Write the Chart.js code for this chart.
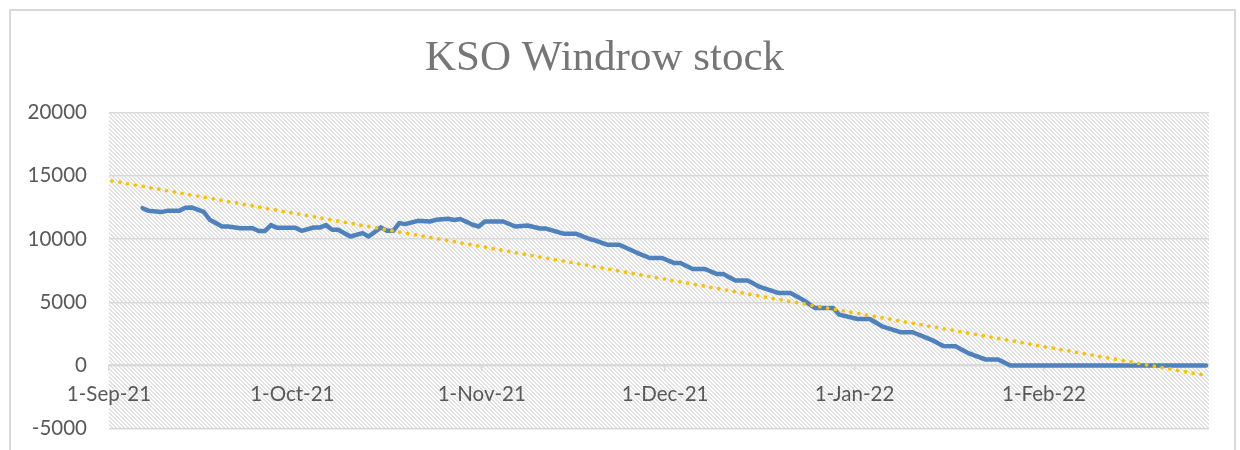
<!DOCTYPE html>
<html>
<head>
<meta charset="utf-8">
<title>KSO Windrow stock</title>
<script src="https://cdn.jsdelivr.net/npm/chart.js@4/dist/chart.umd.min.js"></script>
<style>
    html, body { margin: 0; padding: 0; background: #ffffff; }
    #wrap { width: 1240px; height: 450px; position: relative; }
</style>
</head>
<body>
<div id="wrap"><canvas id="stock-chart"></canvas></div>
<script>
// chart data
const startDate = '2021-09-01';
const axisDays = 180;

const stockDates = [
    '2021-09-06', '2021-09-07', '2021-09-09', '2021-09-10', '2021-09-12', '2021-09-13', '2021-09-14',
    '2021-09-16', '2021-09-17', '2021-09-19', '2021-09-20', '2021-09-22', '2021-09-24', '2021-09-25',
    '2021-09-26', '2021-09-27', '2021-09-28', '2021-10-01', '2021-10-02', '2021-10-04', '2021-10-05',
    '2021-10-06', '2021-10-07', '2021-10-08', '2021-10-10', '2021-10-12', '2021-10-13', '2021-10-15',
    '2021-10-16', '2021-10-17', '2021-10-18', '2021-10-19', '2021-10-21', '2021-10-23', '2021-10-24',
    '2021-10-26', '2021-10-27', '2021-10-28', '2021-10-30', '2021-10-31', '2021-11-01', '2021-11-04',
    '2021-11-06', '2021-11-08', '2021-11-10', '2021-11-11', '2021-11-14', '2021-11-16', '2021-11-18',
    '2021-11-19', '2021-11-21', '2021-11-23', '2021-11-26', '2021-11-28', '2021-11-30', '2021-12-02',
    '2021-12-03', '2021-12-05', '2021-12-07', '2021-12-09', '2021-12-10', '2021-12-12', '2021-12-14',
    '2021-12-16', '2021-12-19', '2021-12-21', '2021-12-23', '2021-12-25', '2021-12-28', '2021-12-29',
    '2022-01-01', '2022-01-03', '2022-01-05', '2022-01-08', '2022-01-10', '2022-01-13', '2022-01-15',
    '2022-01-17', '2022-01-19', '2022-01-22', '2022-01-24', '2022-01-26', '2022-02-27'
];
const stockValues = [
    12440, 12230, 12130, 12230, 12230, 12480, 12500,
    12150, 11520, 10990, 10990, 10860, 10860, 10630,
    10630, 11100, 10890, 10890, 10650, 10910, 10910,
    11100, 10730, 10730, 10200, 10470, 10200, 10920,
    10650, 10650, 11260, 11180, 11440, 11390, 11520,
    11600, 11500, 11580, 11130, 10990, 11390, 11390,
    10990, 11070, 10830, 10830, 10410, 10410, 10020,
    9890, 9550, 9550, 8890, 8500, 8500, 8100,
    8100, 7630, 7630, 7230, 7230, 6730, 6730,
    6210, 5740, 5740, 5210, 4550, 4550, 4020,
    3680, 3680, 3100, 2630, 2630, 2050, 1550,
    1520, 1000, 470, 470, 0, 0
];

// linear trend line end points
const trendDates = ['2021-09-01', '2022-02-27'];
const trendValues = [14600, -780];

// x axis tick labels
const tickDates = ['2021-09-01', '2021-10-01', '2021-11-01', '2021-12-01', '2022-01-01', '2022-02-01'];
const tickLabels = ['1-Sep-21', '1-Oct-21', '1-Nov-21', '1-Dec-21', '1-Jan-22', '1-Feb-22'];

// y axis
const yMin = -5000;
const yMax = 20000;
const yStep = 5000;

// days since start date
function dayIndex(s) {
    const a = new Date(startDate + 'T00:00:00Z');
    const b = new Date(s + 'T00:00:00Z');
    return Math.round((b - a) / 86400000);
}

// each day is a slot, points sit in the middle of it
function toPoints(dates, values) {
    return dates.map((d, i) => ({ x: dayIndex(d) + 0.5, y: values[i] }));
}

const tickDays = tickDates.map(dayIndex);

// hatched plot area
function makeHatch() {
    const c = document.createElement('canvas');
    c.width = 4;
    c.height = 4;
    const g = c.getContext('2d');
    g.fillStyle = '#ffffff';
    g.fillRect(0, 0, 4, 4);
    g.fillStyle = '#e2e2e2';
    for (let y = 0; y < 4; y++) {
        for (let x = 0; x < 4; x++) {
            if (((x - y) % 4 + 4) % 4 < 2) {
                g.fillRect(x, y, 1, 1);
            }
        }
    }
    return c;
}

const backgroundPlugin = {
    id: 'background',
    beforeDraw(chart) {
        const ctx = chart.ctx;
        const area = chart.chartArea;
        ctx.save();
        ctx.fillStyle = '#ffffff';
        ctx.fillRect(0, 0, chart.width, chart.height);
        ctx.fillStyle = ctx.createPattern(makeHatch(), 'repeat');
        ctx.fillRect(area.left, area.top, area.right - area.left, area.bottom - area.top);
        // outer chart border
        ctx.strokeStyle = '#d9d9d9';
        ctx.lineWidth = 2;
        ctx.strokeRect(10, 10, 1225, 460);
        ctx.restore();
    }
};

const ctx = document.getElementById('stock-chart').getContext('2d');
const stockChart = new Chart(ctx, {
    type: 'line',
    data: {
        datasets: [{
            label: 'KSO Windrow stock',
            data: toPoints(stockDates, stockValues),
            borderColor: '#4f81bd',
            borderWidth: 4.5,
            borderJoinStyle: 'round',
            borderCapStyle: 'round',
            pointRadius: 0,
            tension: 0,
            fill: false,
            order: 2
        }, {
            label: 'Linear trend',
            data: toPoints(trendDates, trendValues),
            borderColor: '#ffc000',
            borderWidth: 3.8,
            borderDash: [0, 7.9],
            borderCapStyle: 'round',
            pointRadius: 0,
            tension: 0,
            fill: false,
            order: 1
        }]
    },
    options: {
        responsive: true,
        maintainAspectRatio: false,
        animation: false,
        layout: {
            padding: { left: 0, right: 31, top: 0, bottom: 21 }
        },
        scales: {
            x: {
                type: 'linear',
                min: 0,
                max: axisDays,
                position: { y: 0 },
                afterBuildTicks: function(scale) {
                    scale.ticks = tickDays.map(v => ({ value: v }));
                },
                ticks: {
                    autoSkip: false,
                    maxRotation: 0,
                    padding: 12,
                    color: '#595959',
                    font: { family: 'Lato', size: 20.5 },
                    callback: function(value) {
                        const i = tickDays.indexOf(value);
                        return i >= 0 ? tickLabels[i] : '';
                    }
                },
                grid: {
                    drawOnChartArea: false,
                    drawTicks: true,
                    tickLength: 5,
                    color: '#d9d9d9',
                    lineWidth: 1.5
                },
                border: {
                    display: true,
                    color: '#d9d9d9',
                    width: 2
                }
            },
            y: {
                min: yMin,
                max: yMax,
                afterFit: function(scale) {
                    scale.width = 109;
                },
                ticks: {
                    stepSize: yStep,
                    padding: 9,
                    color: '#595959',
                    font: { family: 'Lato', size: 20.5 },
                    callback: function(value) {
                        return String(value);
                    }
                },
                grid: {
                    // invisible tick marks push the labels away from the plot
                    drawTicks: true,
                    tickLength: 13,
                    tickColor: 'rgba(0,0,0,0)',
                    color: '#d9d9d9',
                    lineWidth: 1.5
                },
                border: {
                    display: false
                }
            }
        },
        plugins: {
            legend: { display: false },
            tooltip: { enabled: false },
            title: {
                display: true,
                text: 'KSO Windrow stock',
                color: '#767676',
                font: { family: 'Liberation Serif', size: 43, weight: 'normal' },
                padding: { top: 33, bottom: 28 }
            }
        }
    },
    plugins: [backgroundPlugin]
});
</script>
</body>
</html>
